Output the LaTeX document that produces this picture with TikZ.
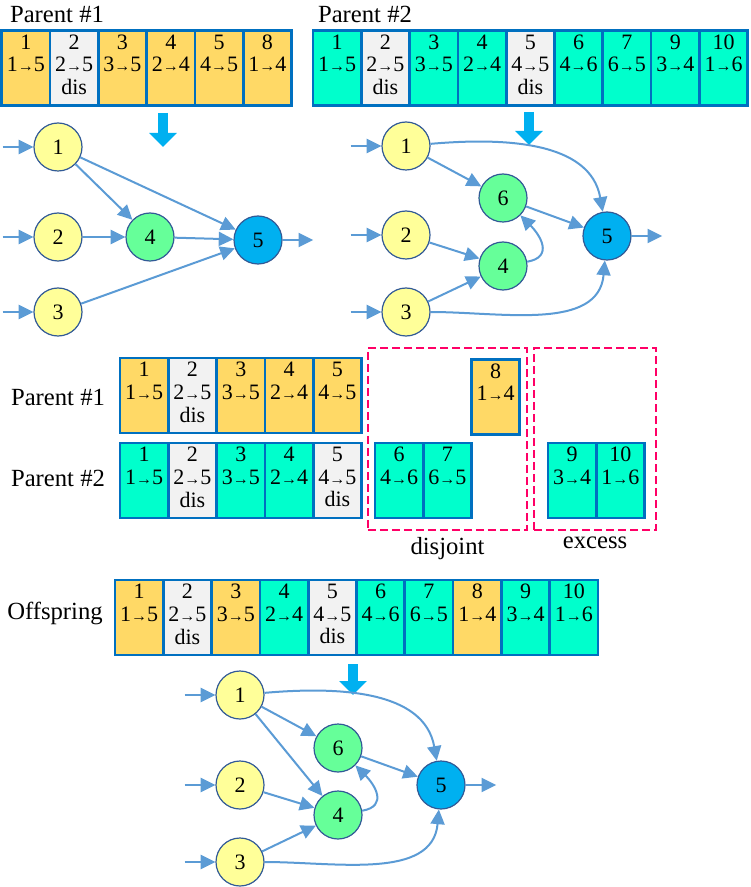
\documentclass[tikz,border=0pt]{standalone}
\usepackage{fontspec}
\setmainfont{Liberation Serif}
\usepackage{tikz}
\usetikzlibrary{arrows.meta, positioning}
\definecolor{genegold}{RGB}{255,217,102}
\definecolor{geneteal}{RGB}{0,255,204}
\definecolor{genegray}{RGB}{242,242,242}
\definecolor{geneline}{RGB}{0,112,192}
\definecolor{nodeline}{RGB}{50,90,150}
\definecolor{inyellow}{RGB}{255,255,153}
\definecolor{hidgreen}{RGB}{102,255,153}
\definecolor{outblue}{RGB}{0,176,240}
\definecolor{edgeblue}{RGB}{91,155,213}
\definecolor{boxred}{RGB}{255,0,102}
\newcommand{\genefont}{\fontsize{16.5}{17}\selectfont}
\newcommand{\lblfont}{\fontsize{18.5}{19}\selectfont}
\newcommand{\garrow}{{\fontsize{12}{12}\selectfont→}}
\tikzset{
  gene/.style={rectangle, draw=geneline, line width=2pt,
    minimum width=36.2pt, minimum height=56.3pt, inner sep=0pt,
    outer sep=0pt, align=center, font=\genefont},
  p1gene/.style={gene, fill=genegold},
  p2gene/.style={gene, fill=geneteal},
  disgene/.style={gene, fill=genegray},
  neuron/.style={circle, draw=nodeline, line width=0.9pt,
    minimum size=36pt, inner sep=0pt, font=\genefont},
  innode/.style={neuron, fill=inyellow},
  hidnode/.style={neuron, fill=hidgreen},
  outnode/.style={neuron, fill=outblue},
  conn/.style={-{Triangle[length=11pt,width=10.5pt]}, line width=1.5pt, color=edgeblue},
  bigarrow/.style={-{Triangle[length=10.5pt,width=20pt]}, line width=7.5pt, color=outblue},
  dashbox/.style={rectangle, draw=boxred, dashed, line width=1.6pt,
    dash pattern=on 6pt off 3pt, inner sep=0pt},
  lbl/.style={font=\lblfont}
}

\begin{document}
\begin{tikzpicture}[x=0.75pt, y=-0.75pt]
  \useasboundingbox (0,0) rectangle (750,887);

  % top genomes
  \node[lbl] (tlbl1) at (57,14) {Parent \#1};
  \node[lbl] (tlbl2) at (365,14) {Parent \#2};
  \foreach \k/\g/\a/\b/\s/\x in {0/1/1/5/p1gene/\relax, 1/2/2/5/disgene/dis,
      2/3/3/5/p1gene/\relax, 3/4/2/4/p1gene/\relax, 4/5/4/5/p1gene/\relax,
      5/8/1/4/p1gene/\relax}
    \node[\s] (ta\g) at ({25.85+48.3*\k},68) {\g\\\a\garrow\b\\\strut\x};
  \foreach \k/\g/\a/\b/\s/\x in {0/1/1/5/p2gene/\relax, 1/2/2/5/disgene/dis,
      2/3/3/5/p2gene/\relax, 3/4/2/4/p2gene/\relax, 4/5/4/5/disgene/dis,
      5/6/4/6/p2gene/\relax, 6/7/6/5/p2gene/\relax, 7/9/3/4/p2gene/\relax,
      8/10/1/6/p2gene/\relax}
    \node[\s] (tb\g) at ({337.15+48.3*\k},68) {\g\\\a\garrow\b\\\strut\x};

  \coordinate (ar1s) at (163,113);
  \coordinate (ar1e) at (163,147);
  \coordinate (ar2s) at (529,112);
  \coordinate (ar2e) at (529,145);
  \draw[bigarrow] (ar1s) -- (ar1e);
  \draw[bigarrow] (ar2s) -- (ar2e);

  % network of parent 1
  \node[innode] (a1) at (58,147) {1};
  \node[innode] (a2) at (58,237) {2};
  \node[innode] (a3) at (58,312) {3};
  \node[hidnode] (a4) at (150,237) {4};
  \node[outnode] (a5) at (258,240) {5};
  \foreach \n in {1,2,3} {
    \coordinate[left=23pt of a\n] (a\n in);
    \draw[conn] (a\n in) -- (a\n);
  }
  \coordinate[right=23pt of a5] (a5out);
  \draw[conn] (a5) -- (a5out);
  \draw[conn] (a1) -- (a4);
  \draw[conn] (a1) -- (a5);
  \draw[conn] (a2) -- (a4);
  \draw[conn] (a4) -- (a5);
  \draw[conn] (a3) -- (a5);

  % network of parent 2
  \node[innode] (b1) at (406,146) {1};
  \node[innode] (b2) at (406,235) {2};
  \node[innode] (b3) at (406,312) {3};
  \node[hidnode] (b6) at (503,198) {6};
  \node[hidnode] (b4) at (503,266) {4};
  \node[outnode] (b5) at (607,236) {5};
  \foreach \n in {1,2,3} {
    \coordinate[left=23pt of b\n] (b\n in);
    \draw[conn] (b\n in) -- (b\n);
  }
  \coordinate[right=23pt of b5] (b5out);
  \draw[conn] (b5) -- (b5out);
  \draw[conn] (b1) -- (b6);
  \draw[conn] (b1) to[out=5, in=100] (b5);
  \draw[conn] (b6) -- (b5);
  \draw[conn] (b2) -- (b4);
  \draw[conn] (b3) -- (b4);
  \draw[conn] (b4) to[out=10, in=-45, looseness=1.5] (b6);
  \draw[conn] (b3) to[out=0, in=-95] (b5);

  % aligned genomes
  \node[lbl] (mlbl1) at (58,397) {Parent \#1};
  \node[lbl] (mlbl2) at (58,478) {Parent \#2};
  \node[dashbox, minimum width=119.3pt, minimum height=136.5pt] (disjoint) at (447.5,439) {};
  \node[dashbox, minimum width=91.5pt, minimum height=136.5pt] (excess) at (595,439) {};
  \node[lbl, below=1pt of disjoint] (djlbl) {disjoint};
  \node[lbl, below=1pt of excess] (exlbl) {excess};
  \foreach \k/\g/\a/\b/\s/\x in {0/1/1/5/p1gene/\relax, 1/2/2/5/disgene/dis,
      2/3/3/5/p1gene/\relax, 3/4/2/4/p1gene/\relax, 4/5/4/5/p1gene/\relax}
    \node[\s] (ma\g) at ({144.15+48.3*\k},395.5) {\g\\\a\garrow\b\\\strut\x};
  \node[p1gene] (ma8) at (495.5,397) {8\\1\garrow4\\\strut};
  \foreach \k/\g/\a/\b/\s/\x in {0/1/1/5/p2gene/\relax, 1/2/2/5/disgene/dis,
      2/3/3/5/p2gene/\relax, 3/4/2/4/p2gene/\relax, 4/5/4/5/disgene/dis}
    \node[\s] (mb\g) at ({144.15+48.3*\k},480.5) {\g\\\a\garrow\b\\\strut\x};
  \node[p2gene] (mb6) at (399.15,480.5) {6\\4\garrow6\\\strut};
  \node[p2gene] (mb7) at (447.45,480.5) {7\\6\garrow5\\\strut};
  \node[p2gene] (mb9) at (572.15,480.5) {9\\3\garrow4\\\strut};
  \node[p2gene] (mb10) at (620.45,480.5) {10\\1\garrow6\\\strut};

  % offspring genome
  \node[lbl] (olbl) at (55,613) {Offspring};
  \foreach \k/\g/\a/\b/\s/\x in {0/1/1/5/p1gene/\relax, 1/2/2/5/disgene/dis,
      2/3/3/5/p1gene/\relax, 3/4/2/4/p2gene/\relax, 4/5/4/5/disgene/dis,
      5/6/4/6/p2gene/\relax, 6/7/6/5/p2gene/\relax, 7/8/1/4/p1gene/\relax,
      8/9/3/4/p2gene/\relax, 9/10/1/6/p2gene/\relax}
    \node[\s] (og\g) at ({139.15+48.3*\k},617.5) {\g\\\a\garrow\b\\\strut\x};

  \coordinate (ar3s) at (353,664);
  \coordinate (ar3e) at (353,695);
  \draw[bigarrow] (ar3s) -- (ar3e);

  % network of offspring
  \node[innode] (c1) at (240,695) {1};
  \node[innode] (c2) at (240,785) {2};
  \node[innode] (c3) at (240,862) {3};
  \node[hidnode] (c6) at (338,748) {6};
  \node[hidnode] (c4) at (338,815) {4};
  \node[outnode] (c5) at (441,785) {5};
  \foreach \n in {1,2,3} {
    \coordinate[left=23pt of c\n] (c\n in);
    \draw[conn] (c\n in) -- (c\n);
  }
  \coordinate[right=23pt of c5] (c5out);
  \draw[conn] (c5) -- (c5out);
  \draw[conn] (c1) -- (c6);
  \draw[conn] (c1) -- (c4);
  \draw[conn] (c1) to[out=5, in=100] (c5);
  \draw[conn] (c6) -- (c5);
  \draw[conn] (c2) -- (c4);
  \draw[conn] (c3) -- (c4);
  \draw[conn] (c4) to[out=10, in=-45, looseness=1.5] (c6);
  \draw[conn] (c3) to[out=0, in=-95] (c5);
\end{tikzpicture}
\end{document}
